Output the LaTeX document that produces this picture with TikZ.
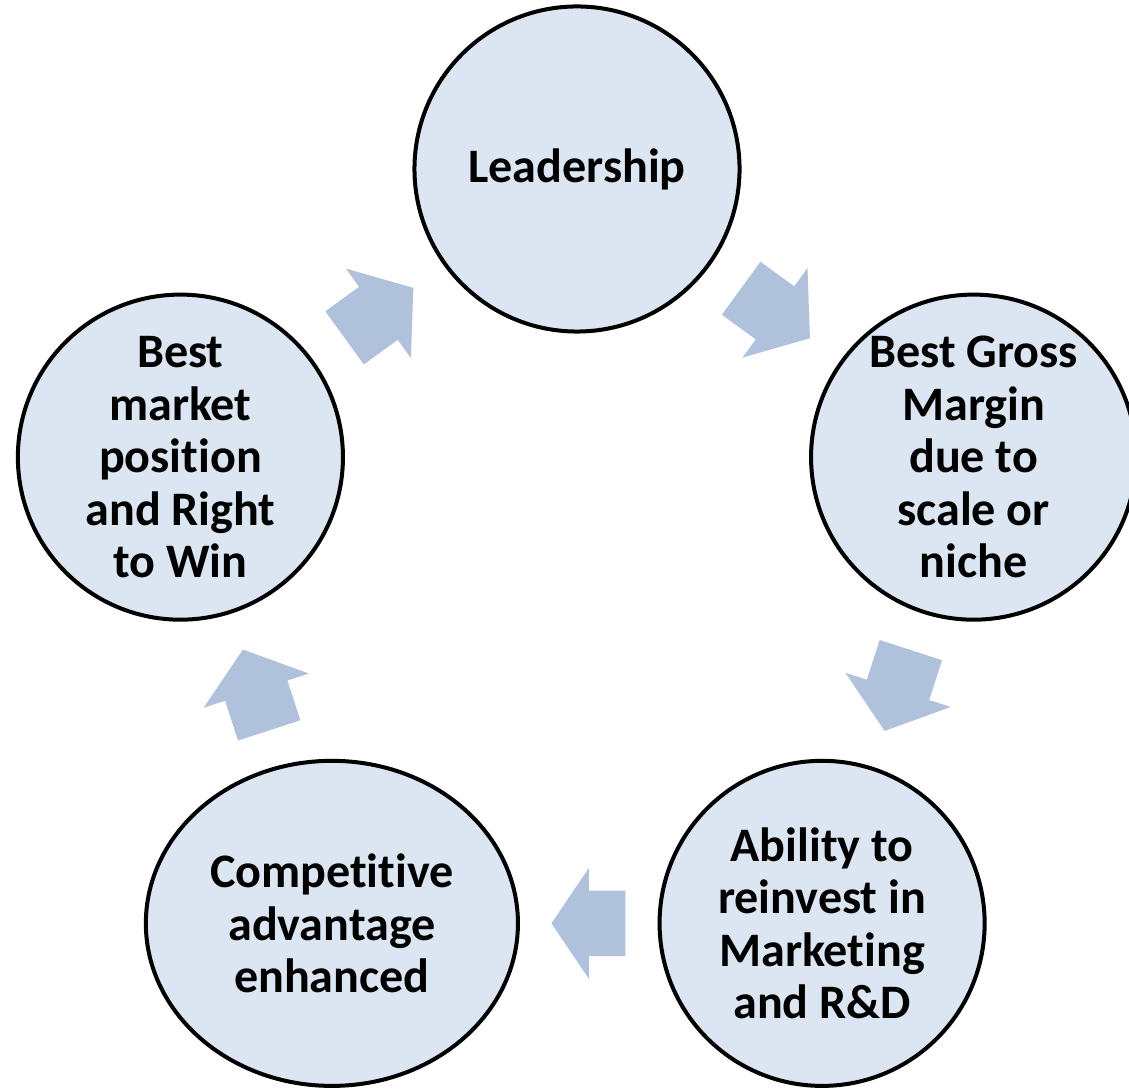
\documentclass[tikz,border=0pt]{standalone}
\usepackage{fontspec}
\setmainfont{Carlito}[Ligatures=NoCommon]
\usetikzlibrary{shapes.geometric,shapes.arrows,calc}
\definecolor{cyclefill}{HTML}{DCE6F2}
\definecolor{arrowfill}{HTML}{B0C1DC}
\tikzset{
  stage/.style={circle, draw=black, line width=0.1cm, fill=cyclefill,
    minimum size=8.125cm, inner sep=0pt, align=center,
    font={\fontsize{34.2}{37.3}\selectfont\bfseries}},
  flow/.style={single arrow, fill=arrowfill, draw=none, anchor=tail,
    inner xsep=0pt, inner ysep=0.8125cm, minimum height=2.125cm,
    single arrow head extend=0.5625cm, single arrow tip angle=104}
}
\begin{document}
\begin{tikzpicture}[x=0.025cm, y=0.025cm]
  \clip (0,0) rectangle (1129,1088);
  \coordinate (ctr) at (577,502);
  % the five stages
  \node[stage] (lead) at ($(ctr)+(90:417)$) {Leadership};
  \node[stage] (gross) at ($(ctr)+(18:417)$) {Best Gross\\Margin\\due to\\scale or\\niche};
  \node[stage] (abil) at ($(ctr)+(-54:417)$) {Ability to\\reinvest in\\Marketing\\and R\&D};
  \node[stage, ellipse, minimum width=9.3cm, minimum height=8.125cm] (comp) at ($(ctr)+(-126:417)$) {Competitive\\advantage\\enhanced};
  \node[stage] (market) at ($(ctr)+(162:417)$) {Best\\market\\position\\and Right\\to Win};
  % arrows between them (placed by their tails)
  \node[flow, rotate=-36] (a1) at ($(lead)!0.5!(gross)+(144:42.5)$) {};
  \node[flow, rotate=-108] (a2) at ($(gross)!0.5!(abil)+(72:42.5)$) {};
  \node[flow, rotate=180, minimum height=1.85cm, single arrow tip angle=112] (a3) at ($(abil.west)!0.5!(comp.east)+(0:37)$) {};
  \node[flow, rotate=108] (a4) at ($(comp)!0.5!(market)+(-72:42.5)$) {};
  \node[flow, rotate=36] (a5) at ($(market)!0.5!(lead)+(-144:42.5)$) {};
\end{tikzpicture}
\end{document}
